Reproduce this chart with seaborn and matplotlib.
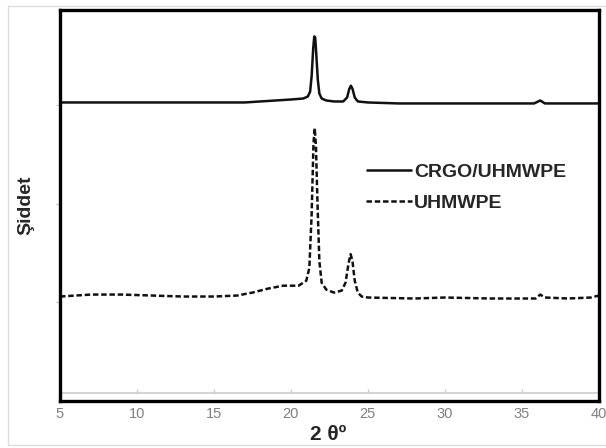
import matplotlib
matplotlib.use("Agg")
import matplotlib.pyplot as plt
import seaborn as sns
import pandas as pd
from matplotlib.patches import Rectangle

# --- Data (2 theta in degrees, intensity in arbitrary units) ---
crgo_theta = [5, 8, 10, 13, 15, 17, 18, 19, 20, 20.8, 21.1, 21.25, 21.35, 21.45, 21.52, 21.58,
              21.65, 21.75, 21.85, 22.0, 22.3, 22.8, 23.4, 23.65, 23.8, 23.9, 24.0, 24.15,
              24.35, 25, 27, 30, 33, 35.8, 36.2, 36.5, 38, 40]
crgo_int = [3.03, 3.03, 3.03, 3.03, 3.03, 3.03, 3.04, 3.05, 3.06, 3.07, 3.09, 3.14, 3.30, 3.58, 3.70, 3.69,
            3.52, 3.26, 3.12, 3.07, 3.05, 3.04, 3.04, 3.08, 3.17, 3.20, 3.17, 3.08,
            3.04, 3.03, 3.02, 3.02, 3.02, 3.02, 3.05, 3.02, 3.02, 3.02]

uhmwpe_theta = [5, 7, 9, 11, 13, 15, 16.5, 17.5, 18.5, 19.5, 20.5, 21.0, 21.2, 21.35, 21.47,
                21.55, 21.63, 21.73, 21.85, 22.0, 22.3, 22.8, 23.3, 23.55, 23.75, 23.88, 24.0,
                24.15, 24.35, 24.6, 25, 28, 30, 33, 35.9, 36.2, 36.5, 38, 39.5, 40]
uhmwpe_int = [1.06, 1.08, 1.08, 1.07, 1.06, 1.06, 1.07, 1.10, 1.14, 1.17, 1.17, 1.22, 1.35, 1.90, 2.62,
              2.77, 2.58, 2.00, 1.42, 1.20, 1.13, 1.10, 1.12, 1.20, 1.40, 1.49, 1.42,
              1.22, 1.10, 1.06, 1.05, 1.04, 1.05, 1.04, 1.04, 1.08, 1.05, 1.04, 1.05, 1.07]

series_names = ["CRGO/UHMWPE", "UHMWPE"]
x_ticks = [5, 10, 15, 20, 25, 30, 35, 40]
y_ticks = [1, 2, 3]

df = pd.concat([
    pd.DataFrame({"theta": crgo_theta, "intensity": crgo_int, "sample": series_names[0]}),
    pd.DataFrame({"theta": uhmwpe_theta, "intensity": uhmwpe_int, "sample": series_names[1]}),
])

sns.set_theme(style="white")
plt.rcParams["font.family"] = ["Liberation Sans", "DejaVu Sans"]

fig = plt.figure(figsize=(6.06, 4.48), dpi=100)
ax = fig.add_axes([0.099, 0.105, 0.889, 0.873])

sns.lineplot(data=df, x="theta", y="intensity", hue="sample", style="sample",
             palette=["#111111", "#111111"], dashes=[(1, 0), (2.2, 1.1)], linewidth=1.8,
             sort=False, ax=ax)

ax.set_xlim(5, 40)
ax.set_ylim(0, 3.97)
ax.set_xticks(x_ticks)
ax.set_yticks(y_ticks)
ax.set_yticklabels([])
ax.tick_params(axis="y", length=3, width=0.8, color="#bbbbbb", direction="out", left=True)
ax.tick_params(axis="x", length=0, labelsize=10.5, labelcolor="#808080", pad=4)

# light inner axis line with small tick marks
ax.axhline(0.085, color="#cccccc", linewidth=1.2, zorder=1)
ax.vlines(x_ticks[1:-1], 0.085, 0.12, color="#cccccc", linewidth=1.0)

for s in ax.spines.values():
    s.set_visible(True)
    s.set_color("black")
    s.set_linewidth(2.4)

ax.set_xlabel("2 θº", fontsize=15, fontweight="bold")
ax.xaxis.set_label_coords(0.497, -0.062)
ax.set_ylabel("Şiddet", fontsize=14, fontweight="bold")
ax.yaxis.set_label_coords(-0.048, 0.50)

ax.legend(frameon=False, loc="upper left", bbox_to_anchor=(0.535, 0.652),
          handlelength=2.4, handletextpad=0.1, labelspacing=0.7,
          prop={"weight": "bold", "size": 14})

# light outer border of the picture
fig.patches.append(Rectangle((8 / 606, 3 / 448), 1.2, 1 - 6 / 448 - 3 / 448,
                             transform=fig.transFigure, fill=False,
                             edgecolor="#dddddd", linewidth=1.0))

fig.savefig("out.png", dpi=100)
